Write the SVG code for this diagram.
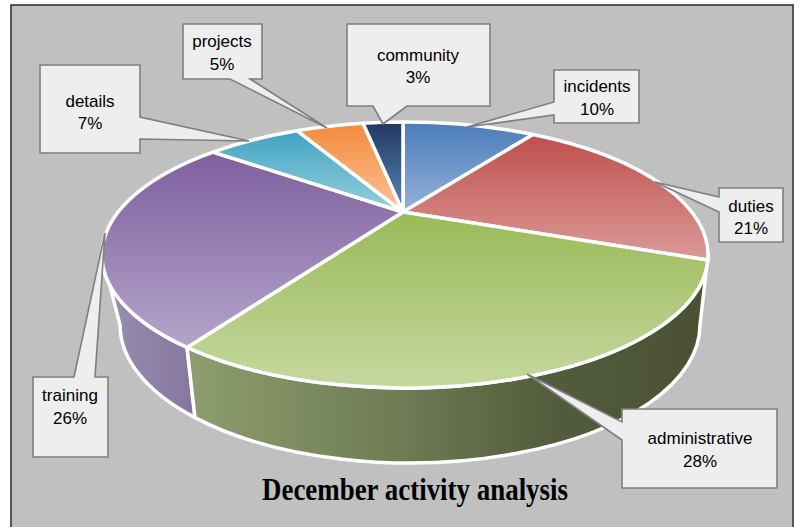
<svg xmlns="http://www.w3.org/2000/svg" width="801" height="527" viewBox="0 0 801 527">
<style>
.lbl{font-family:"Liberation Sans",Arial,sans-serif;font-size:17px;fill:#000;text-anchor:middle}
.callout{fill:#eeeeee;stroke:#7f7f7f;stroke-width:1.6;stroke-linejoin:miter}
.wedge{stroke:#ffffff;stroke-width:3.5;stroke-linejoin:round}
.side{stroke:#ffffff;stroke-width:3.5;stroke-linejoin:round}
.title{font-family:"Liberation Serif","Times New Roman",serif;font-weight:bold;font-size:31px;fill:#000;text-anchor:middle}
</style>
<defs>
<linearGradient id="gInc" x1="0" y1="0" x2="0" y2="1"><stop offset="0" stop-color="#4a7cba"/><stop offset="1" stop-color="#95b2d9"/></linearGradient>
<linearGradient id="gDut" x1="0" y1="0" x2="0" y2="1"><stop offset="0" stop-color="#bf4f4c"/><stop offset="1" stop-color="#db9a97"/></linearGradient>
<linearGradient id="gAdm" x1="0" y1="0" x2="0" y2="1"><stop offset="0" stop-color="#9aba58"/><stop offset="1" stop-color="#c5d89f"/></linearGradient>
<linearGradient id="gTra" x1="0" y1="0" x2="0" y2="1"><stop offset="0" stop-color="#7e5f9e"/><stop offset="1" stop-color="#b4a4ca"/></linearGradient>
<linearGradient id="gDet" x1="0" y1="0" x2="0" y2="1"><stop offset="0" stop-color="#40a3c1"/><stop offset="1" stop-color="#97cfde"/></linearGradient>
<linearGradient id="gPro" x1="0" y1="0" x2="0" y2="1"><stop offset="0" stop-color="#f58a3a"/><stop offset="1" stop-color="#f9c39a"/></linearGradient>
<linearGradient id="gCom" x1="0" y1="0" x2="0" y2="1"><stop offset="0" stop-color="#1f385e"/><stop offset="1" stop-color="#5c86c0"/></linearGradient>
<linearGradient id="gAdmSide" gradientUnits="userSpaceOnUse" x1="195" y1="0" x2="700" y2="0"><stop offset="0" stop-color="#8d9c6d"/><stop offset="0.4" stop-color="#6f7c54"/><stop offset="0.72" stop-color="#525b3b"/><stop offset="1" stop-color="#4a5233"/></linearGradient>
<linearGradient id="gTraSide" gradientUnits="userSpaceOnUse" x1="102" y1="0" x2="195" y2="0"><stop offset="0" stop-color="#9a8fb2"/><stop offset="1" stop-color="#85769d"/></linearGradient>
</defs>
<rect x="0" y="0" width="801" height="527" fill="#ffffff"/>
<rect x="11" y="5" width="782" height="530" fill="#c0c0c0" stroke="#333333" stroke-width="1.6"/>
<g id="pie-sides">
<path class="side" fill="url(#gTraSide)" d="M102,255 L120,325 A290 138 0 0 0 195,417.6 L187,347.4 A303 133 0 0 1 102,255 Z"/>
<path class="side" fill="url(#gAdmSide)" d="M187,347.4 L195,417.6 A290 138 0 0 0 700,325 L708,255 A303 133 0 0 1 187,347.4 Z"/>
</g>
<g id="pie-top">
<path id="w-incidents" class="wedge" fill="url(#gInc)" d="M403,212 L403,122 A303 133 0 0 1 533,134.5 Z"/>
<path id="w-duties" class="wedge" fill="url(#gDut)" d="M403,212 L533,134.5 A303 133 0 0 1 707.8,260 Z"/>
<path id="w-administrative" class="wedge" fill="url(#gAdm)" d="M403,212 L707.8,260 A303 133 0 0 1 187,347.4 Z"/>
<path id="w-training" class="wedge" fill="url(#gTra)" d="M403,212 L187,347.4 A303 133 0 0 1 213,152.1 Z"/>
<path id="w-details" class="wedge" fill="url(#gDet)" d="M403,212 L213,152.1 A303 133 0 0 1 297,130.7 Z"/>
<path id="w-projects" class="wedge" fill="url(#gPro)" d="M403,212 L297,130.7 A303 133 0 0 1 363,123.3 Z"/>
<path id="w-community" class="wedge" fill="url(#gCom)" d="M403,212 L363,123.3 A303 133 0 0 1 403,122 Z"/>
</g>
<g id="connectors"></g>
<g id="label-details">
<polygon class="callout" points="40,65 140,65 140,117 249,141 140,139 140,153 40,153"/>
<text class="lbl" x="90" y="107">details</text><text class="lbl" x="90" y="129">7%</text>
</g>
<g id="label-projects">
<polygon class="callout" points="183,24 262,24 262,79 250,79 327,128 230,79 183,79"/>
<text class="lbl" x="222" y="47">projects</text><text class="lbl" x="222" y="70">5%</text>
</g>
<g id="label-community">
<polygon class="callout" points="347,24 490,24 490,106 407,106 383,124 373,106 347,106"/>
<text class="lbl" x="418" y="61">community</text><text class="lbl" x="418" y="83">3%</text>
</g>
<g id="label-incidents">
<polygon class="callout" points="554,70 639,70 639,123 554,123 554,115 467,127 554,102"/>
<text class="lbl" x="597" y="92">incidents</text><text class="lbl" x="597" y="115">10%</text>
</g>
<g id="label-duties">
<polygon class="callout" points="719,188 783,188 783,242 719,242 719,212 655,182 719,197"/>
<text class="lbl" x="751" y="212">duties</text><text class="lbl" x="751" y="234">21%</text>
</g>
<g id="label-administrative">
<polygon class="callout" points="622,409 777,409 777,488 622,488 622,440 527,374 622,422"/>
<text class="lbl" x="700" y="444">administrative</text><text class="lbl" x="700" y="467">28%</text>
</g>
<g id="label-training">
<polygon class="callout" points="33,377 74,377 105,233 95,377 108,377 108,457 33,457"/>
<text class="lbl" x="70" y="401">training</text><text class="lbl" x="70" y="424">26%</text>
</g>
<g id="title">
<text class="title" x="415" y="500" textLength="306" lengthAdjust="spacingAndGlyphs">December activity analysis</text>
</g>
</svg>
